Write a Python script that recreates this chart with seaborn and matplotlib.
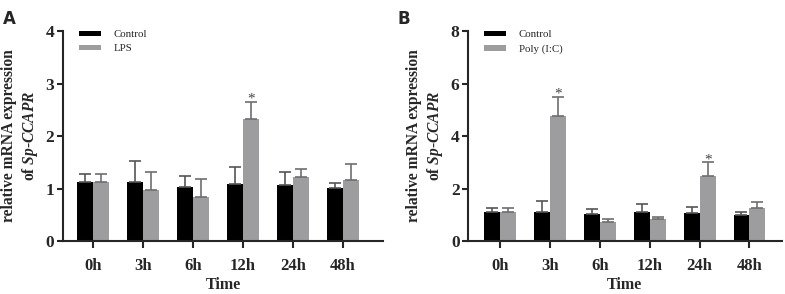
import numpy as np
import pandas as pd
import seaborn as sns
from matplotlib import pyplot as plt

times = ["0h", "3h", "6h", "12h", "24h", "48h"]

ctrl_a = [1.12, 1.12, 1.04, 1.09, 1.07, 1.01]
ctrl_a_sd = [0.15, 0.40, 0.20, 0.32, 0.24, 0.09]
lps = [1.12, 0.98, 0.84, 2.32, 1.23, 1.16]
lps_sd = [0.15, 0.33, 0.34, 0.33, 0.15, 0.31]

ctrl_b = [1.11, 1.12, 1.03, 1.09, 1.06, 0.99]
ctrl_b_sd = [0.15, 0.41, 0.19, 0.32, 0.24, 0.10]
polyic = [1.11, 4.75, 0.72, 0.84, 2.48, 1.25]
polyic_sd = [0.15, 0.73, 0.13, 0.08, 0.52, 0.25]

star_a = ["12h"]
star_b = ["3h", "24h"]

sns.set_style("ticks")
plt.rcParams["font.family"] = ["Liberation Serif", "DejaVu Serif"]
plt.rcParams["mathtext.fontset"] = "custom"
plt.rcParams["mathtext.it"] = "Liberation Serif:italic:bold"
plt.rcParams["mathtext.rm"] = "Liberation Serif:bold"

colors = ["#000000", "#9d9da0"]


def draw_panel(ax, ctrl, ctrl_sd, trt, trt_sd, trt_name, ymax, stars, xlim):
    df = pd.DataFrame({
        "Time": times * 2,
        "value": ctrl + trt,
        "group": ["Control"] * len(times) + [trt_name] * len(times),
    })
    sns.barplot(data=df, x="Time", y="value", hue="group", order=times,
                hue_order=["Control", trt_name], palette=colors,
                errorbar=None, width=0.64, saturation=1, ax=ax,
                edgecolor="none")

    # upper-only error bars, placed on the bar centres
    for i, (vals, sds, ecol) in enumerate([(ctrl, ctrl_sd, "#555555"),
                                           (trt, trt_sd, "#6e6e6e")]):
        bars = ax.containers[i]
        xs = [b.get_x() + b.get_width() / 2 for b in bars]
        ax.errorbar(xs, vals, yerr=[np.zeros(len(vals)), sds], fmt="none",
                    ecolor=ecol, elinewidth=1.2, capsize=4, capthick=1.2,
                    zorder=1)
        if i == 1:
            for x, v, s, t in zip(xs, vals, sds, times):
                if t in stars:
                    ax.annotate("*", xy=(x, v + s), xytext=(0, -0.5),
                                textcoords="offset points", ha="center",
                                va="baseline", fontsize=11, color="#444444")

    ax.set_ylim(0, ymax)
    ax.set_xlim(*xlim)
    ax.set_yticks(np.linspace(0, ymax, 5))
    ax.set_yticklabels([str(int(t)) for t in np.linspace(0, ymax, 5)],
                       fontsize=12.5, fontweight="bold")
    ax.set_xticks(range(len(times)))
    ax.set_xticklabels(times, fontsize=12, fontweight="bold")
    ax.set_xlabel("Time", fontsize=11.5, fontweight="bold", labelpad=2)
    ax.set_ylabel("relative mRNA expression\nof $\\mathit{Sp}$-$\\mathit{CCAPR}$",
                  fontsize=11.2, fontweight="bold", labelpad=4)
    ax.tick_params(axis="both", direction="out", length=4, width=1.5, pad=2)
    ax.tick_params(axis="x", length=5, pad=7)
    for side in ["left", "bottom"]:
        ax.spines[side].set_linewidth(1.5)
    sns.despine(ax=ax)

    handles, labels = ax.get_legend_handles_labels()
    ax.legend(handles, labels, loc="upper left", bbox_to_anchor=(0.02, 1.05),
              frameon=False, handlelength=2.0, handleheight=0.4,
              handletextpad=1.2, labelspacing=0.45, fontsize=7.8)


fig = plt.figure(figsize=(7.85, 2.94), dpi=100)
ax_a = fig.add_axes([0.080, 0.180, 0.408, 0.714])
ax_b = fig.add_axes([0.596, 0.180, 0.400, 0.714])

draw_panel(ax_a, ctrl_a, ctrl_a_sd, lps, lps_sd, "LPS", 4, star_a, (-0.60, 5.80))
draw_panel(ax_b, ctrl_b, ctrl_b_sd, polyic, polyic_sd, "Poly (I:C)", 8, star_b,
           (-0.65, 5.65))

fig.text(0.004, 0.965, "A", fontsize=12, fontweight="bold", family="DejaVu Sans",
         va="top")
fig.text(0.506, 0.965, "B", fontsize=12, fontweight="bold", family="DejaVu Sans",
         va="top")

fig.savefig("out.png", dpi=100)
